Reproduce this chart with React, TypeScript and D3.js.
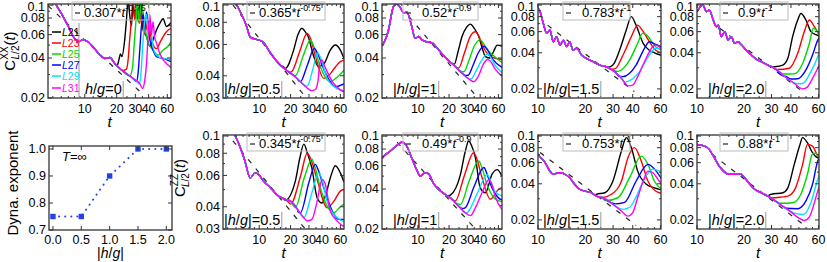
import * as d3 from "d3"

type Pt = [number, number]

// line order: L21, L23, L25, L27, L29, L31
const SIZES = ["21", "23", "25", "27", "29", "31"]
const COLORS = ["#000000", "#ff0000", "#00d800", "#0000ff", "#00e0ff", "#ff00ff"]

const xTickValues = [10, 20, 30, 40, 60]
const xMinorValues = [5, 6, 7, 8, 9, 12, 14, 16, 18, 25, 35, 45, 50, 55]
const yTicksA = [0.02, 0.04, 0.06, 0.08, 0.1]
const yTicksB = [0.03, 0.04, 0.06, 0.08, 0.1]
const yMinorA = [0.03, 0.05, 0.07, 0.09]
const yMinorB = [0.05, 0.07, 0.09]

// ---- C^XX, h/g = 0 ----
const xx0Base: Pt[] = [
  [4.5, 0.14], [5.4, 0.1], [6.25, 0.082], [7.0, 0.069], [7.8, 0.058], [8.7, 0.053], [9.6, 0.055],
  [10.7, 0.053], [12.4, 0.047], [13.9, 0.042], [15.4, 0.0397], [17.2, 0.0404], [19.2, 0.0364],
  [21.4, 0.0334], [24.7, 0.0306], [28.6, 0.028], [33, 0.0257], [35, 0.0236], [36.8, 0.0273],
  [38.2, 0.0364], [39.6, 0.06], [41, 0.085], [42.5, 0.06], [44, 0.075], [45.5, 0.058], [47.4, 0.052],
  [51, 0.043], [56.8, 0.0375], [65, 0.034],
]
const xx0Tails: Pt[][] = [
  [[20.2, 0.035], [21, 0.039], [21.7, 0.043], [22.4, 0.041], [23.8, 0.055], [24.7, 0.077], [25.6, 0.11],
    [26.5, 0.085], [27.5, 0.07], [28.6, 0.1], [29.6, 0.08], [30.7, 0.095], [32, 0.075], [33.5, 0.11],
    [35.5, 0.065], [38.2, 0.058], [41, 0.049], [44, 0.055], [47.4, 0.065], [51, 0.073], [54.8, 0.079],
    [58.9, 0.069], [65, 0.074]],
  [[22.5, 0.0322], [24.7, 0.033], [25.6, 0.0386], [26.5, 0.055], [27.5, 0.077], [28.6, 0.11], [29.6, 0.077],
    [30.7, 0.096], [33, 0.073], [34, 0.09], [36.8, 0.061], [39.6, 0.077], [42.5, 0.055], [47.4, 0.047],
    [51, 0.052], [54.8, 0.058], [58.9, 0.063], [65, 0.067]],
  [[24.5, 0.0302], [26.5, 0.0292], [28.2, 0.034], [29.3, 0.052], [30.4, 0.077], [31.3, 0.11], [32.5, 0.073],
    [34, 0.11], [36.8, 0.069], [39.6, 0.052], [44, 0.046], [49.2, 0.042], [54.8, 0.046], [60.9, 0.049],
    [65, 0.053]],
  [[28, 0.0285], [30.7, 0.0266], [31.8, 0.0306], [33, 0.046], [34.2, 0.069], [35.5, 0.085], [36.8, 0.065],
    [38.2, 0.089], [41, 0.055], [44, 0.046], [47.4, 0.041], [54.8, 0.0397], [65, 0.0375]],
  [[31, 0.0265], [32.5, 0.0255], [33.7, 0.029], [35, 0.046], [36.3, 0.069], [38.2, 0.085], [39.6, 0.061],
    [41, 0.077], [44, 0.049], [47.4, 0.042], [54.8, 0.0397], [65, 0.039]],
  [],
]
const xx0Fit: Pt[] = [[4.5, 0.099], [36, 0.021]]

// ---- C^XX, |h/g| = 0.5 ----
const xx05Base: Pt[] = [
  [4.5, 0.13], [6.1, 0.1], [7.6, 0.0755], [8.2, 0.066], [9.8, 0.0636], [10.9, 0.062], [12.8, 0.0537],
  [15.9, 0.046], [19, 0.0422], [23, 0.0387], [27.7, 0.0348], [30, 0.0335], [32, 0.033], [34.5, 0.0335],
  [36.5, 0.037], [38.5, 0.048], [40, 0.049], [42, 0.046], [44.8, 0.0422], [51.5, 0.0364], [60, 0.0333],
  [65, 0.0325],
]
const xx05Tails: Pt[][] = [
  [[17, 0.045], [17.8, 0.044], [21.4, 0.0558], [23.5, 0.068], [25.7, 0.074], [27.5, 0.071], [29.6, 0.066],
    [33, 0.0524], [37, 0.045], [42, 0.047], [48, 0.0558], [53.7, 0.0596], [60, 0.0558], [65, 0.05]],
  [[19.5, 0.0418], [20.5, 0.0422], [24.5, 0.055], [28.8, 0.0693], [31, 0.065], [35, 0.05], [41.6, 0.0387],
    [48, 0.041], [54, 0.045], [60, 0.048], [65, 0.049]],
  [[21, 0.0405], [22.2, 0.04], [26.5, 0.052], [31, 0.0636], [33.5, 0.058], [38, 0.046], [48, 0.037],
    [55, 0.039], [65, 0.043]],
  [[23.5, 0.038], [24.8, 0.037], [29, 0.046], [33.8, 0.057], [36, 0.054], [42, 0.043], [53.7, 0.0348],
    [65, 0.036]],
  [[27, 0.0355], [28.8, 0.035], [32.5, 0.043], [36.5, 0.0537], [39, 0.05], [44.8, 0.0387], [55, 0.034],
    [65, 0.033]],
  [],
]
const xx05Fit: Pt[] = [[5.6, 0.1], [29, 0.0294]]

// ---- C^XX, |h/g| = 1 ----
const xx1Base: Pt[] = [
  [4.5, 0.05], [4.65, 0.0516], [5.2, 0.065], [5.8, 0.0974], [6.2, 0.102], [6.7, 0.097], [7.3, 0.087],
  [7.8, 0.089], [8.75, 0.0686], [9.4, 0.0562], [10.2, 0.058], [10.9, 0.055], [12.2, 0.053], [13.7, 0.052],
  [15.9, 0.046], [18.4, 0.0404], [22.2, 0.0354], [26.7, 0.0307], [32.2, 0.0273], [34.7, 0.0265],
  [38.8, 0.0297], [43, 0.036], [47, 0.039], [50, 0.038], [56, 0.033], [65, 0.029],
]
const xx1Tails: Pt[][] = [
  [[21, 0.0368], [22.5, 0.036], [24.5, 0.045], [26.7, 0.058], [29.5, 0.068], [32.2, 0.072], [35, 0.067],
    [38.8, 0.058], [42, 0.047], [45, 0.041], [50, 0.04], [54, 0.045], [58.5, 0.05], [65, 0.049]],
  [[23.5, 0.034], [24.8, 0.0336], [28, 0.043], [32, 0.058], [36, 0.063], [39, 0.058], [43, 0.048],
    [48.5, 0.042], [55, 0.04], [65, 0.039]],
  [[26, 0.0318], [27.8, 0.0315], [31, 0.038], [35, 0.049], [40, 0.055], [44, 0.05], [48.5, 0.045],
    [55, 0.041], [65, 0.037]],
  [[29, 0.0296], [30.6, 0.0297], [34, 0.035], [38.5, 0.044], [43.5, 0.049], [47, 0.046], [53, 0.039],
    [65, 0.034]],
  [[31.5, 0.0278], [33, 0.028], [36.5, 0.032], [41, 0.038], [47, 0.043], [50, 0.041], [56, 0.035],
    [65, 0.031]],
  [],
]
const xx1Fit: Pt[] = [[8.2, 0.082], [36, 0.021]]

// ---- C^XX, |h/g| = 1.5 ----
const xx15Base: Pt[] = [
  [10, 0.093], [10.2, 0.091], [10.8, 0.0704], [11.35, 0.058], [11.9, 0.062], [12.5, 0.0495], [13.1, 0.0545],
  [13.8, 0.0464], [14.5, 0.051], [15.2, 0.045], [15.9, 0.0494], [16.7, 0.042], [17.6, 0.0436], [18.9, 0.0383],
  [20.3, 0.036], [22.4, 0.0337], [24.7, 0.0316], [27.2, 0.0306], [31.5, 0.027], [34.6, 0.0237],
  [37.3, 0.0212], [40, 0.0215], [43, 0.0253], [47.5, 0.0337], [53.7, 0.045], [56, 0.0464], [61, 0.043],
]
const xx15Tails: Pt[][] = [
  [[28, 0.0304], [29.9, 0.0316], [33, 0.042], [36.4, 0.062], [39.2, 0.08], [42, 0.068], [46.6, 0.048],
    [51, 0.042], [55, 0.04], [61, 0.038]],
  [[29, 0.0292], [31, 0.0295], [34.6, 0.038], [39.2, 0.0545], [43, 0.068], [45.5, 0.063], [48.8, 0.0545],
    [56, 0.042], [61, 0.04]],
  [[30.5, 0.0282], [32.2, 0.028], [38.2, 0.0348], [43, 0.048], [46.3, 0.058], [48.5, 0.057], [51, 0.0528],
    [56, 0.045], [61, 0.042]],
  [[32.5, 0.0256], [34.6, 0.0253], [42, 0.0316], [47.5, 0.0436], [51, 0.0494], [54, 0.048], [61, 0.045]],
  [[35, 0.0228], [36.4, 0.0229], [44.2, 0.0279], [51, 0.0383], [56, 0.0436], [61, 0.043]],
  [],
]
const xx15Fit: Pt[] = [[11.5, 0.068], [41, 0.019]]

// ---- C^XX, |h/g| = 2.0 ----
const xx2Base: Pt[] = [
  [10, 0.088], [10.9, 0.1], [11.5, 0.088], [12, 0.091], [12.7, 0.075], [13.3, 0.066], [13.7, 0.068],
  [14.3, 0.0545], [15.1, 0.06], [15.8, 0.051], [16.6, 0.0545], [17.4, 0.048], [18.3, 0.0494], [19.3, 0.0464],
  [20.7, 0.042], [22.3, 0.0383], [24, 0.0353], [25.8, 0.0337], [28.5, 0.0316], [31.4, 0.0297],
  [36.3, 0.0255], [42, 0.0222], [47.5, 0.02], [50.9, 0.0207], [55, 0.0245], [59.4, 0.0297], [61, 0.032],
]
const xx2Tails: Pt[][] = [
  [[30, 0.0305], [31.4, 0.0306], [35.5, 0.0316], [38.2, 0.036], [41, 0.0545], [44.2, 0.075], [46.3, 0.085],
    [49.9, 0.075], [53.7, 0.06], [59, 0.056], [61, 0.055]],
  [[31.5, 0.0294], [32.9, 0.029], [39, 0.0297], [44.2, 0.0396], [48.7, 0.06], [52.5, 0.075], [56.5, 0.066],
    [61, 0.056]],
  [[33.5, 0.028], [36, 0.0266], [42, 0.0267], [47.5, 0.0326], [52.5, 0.048], [55.7, 0.064], [58, 0.062],
    [61, 0.056]],
  [[36.5, 0.0255], [40, 0.0242], [44.2, 0.0243], [49.9, 0.0288], [55, 0.0383], [59.4, 0.051], [61, 0.054]],
  [[40, 0.0232], [44, 0.0221], [47.5, 0.0222], [53.7, 0.0279], [59.4, 0.037], [61, 0.041]],
  [],
]
const xx2Fit: Pt[] = [[14, 0.064], [48, 0.0188]]

// ---- C^ZZ, |h/g| = 0.5 ----
const zz05Base: Pt[] = [
  [4.5, 0.125], [5.9, 0.1], [6.6, 0.086], [7.3, 0.0724], [8.2, 0.058], [9.1, 0.062], [9.8, 0.061],
  [11, 0.0558], [12.8, 0.0512], [13.7, 0.049], [15.3, 0.046], [17.8, 0.044], [20, 0.043], [23.3, 0.0387],
  [26.8, 0.0347], [28.8, 0.0333], [32, 0.034], [35.9, 0.043], [38.5, 0.053], [40, 0.057], [43, 0.0535],
  [48, 0.038], [54, 0.034], [60, 0.032], [65, 0.031],
]
const zz05Tails: Pt[][] = [
  [[16.5, 0.045], [17.8, 0.0436], [22.2, 0.0558], [24.5, 0.075], [26.8, 0.09], [29, 0.08], [32, 0.066],
    [35.9, 0.045], [40, 0.042], [44, 0.048], [48, 0.058], [53.7, 0.068], [60, 0.062], [65, 0.055]],
  [[19, 0.0425], [20, 0.0414], [25, 0.06], [28.8, 0.08], [31, 0.075], [35.9, 0.057], [44.8, 0.0395],
    [52, 0.043], [60, 0.049], [65, 0.05]],
  [[21, 0.041], [22.2, 0.0395], [27, 0.058], [32, 0.074], [34, 0.068], [38.5, 0.0512], [51.6, 0.037],
    [60, 0.04], [65, 0.0414]],
  [[23.5, 0.0375], [24.8, 0.037], [30, 0.055], [34.5, 0.0693], [37, 0.064], [41.6, 0.0512], [50, 0.038],
    [57.6, 0.034], [65, 0.034]],
  [[25.5, 0.0357], [26.8, 0.0347], [32, 0.048], [37.3, 0.062], [40, 0.057], [44.8, 0.043], [55, 0.035],
    [65, 0.033]],
  [],
]
const zz05Fit: Pt[] = [[5.6, 0.094], [29, 0.029]]

// ---- C^ZZ, |h/g| = 1 ----
const zz1Base: Pt[] = [
  [4.5, 0.068], [4.65, 0.07], [5.6, 0.079], [6.5, 0.087], [7, 0.09], [7.8, 0.084], [8.75, 0.068],
  [9.8, 0.055], [10.5, 0.05], [11.8, 0.053], [12.7, 0.052], [14.2, 0.044], [15.9, 0.0397], [18.4, 0.0364],
  [20.6, 0.0343], [24.8, 0.0297], [28.8, 0.0265], [32.2, 0.0252], [36, 0.029], [42, 0.038], [48.5, 0.047],
  [52, 0.043], [56, 0.035], [65, 0.028],
]
const zz1Tails: Pt[][] = [
  [[19.5, 0.0355], [20.6, 0.036], [25.8, 0.0515], [28.5, 0.075], [31, 0.092], [33, 0.085], [36, 0.0686],
    [40, 0.0408], [45, 0.0375], [52, 0.0515], [58.5, 0.056], [65, 0.05]],
  [[22, 0.033], [23, 0.0325], [28, 0.05], [34.6, 0.075], [37, 0.068], [41.6, 0.049], [50.3, 0.0335],
    [60, 0.0397], [65, 0.041]],
  [[24, 0.031], [25.8, 0.0306], [31, 0.045], [38.8, 0.065], [41.5, 0.058], [46.7, 0.043], [55, 0.034],
    [65, 0.032]],
  [[27, 0.0285], [28.8, 0.029], [35, 0.042], [43.5, 0.058], [46.5, 0.052], [52, 0.0408], [60, 0.0343],
    [65, 0.033]],
  [[30, 0.0265], [31, 0.0273], [38, 0.038], [46.7, 0.0515], [50, 0.047], [56, 0.038], [65, 0.0355]],
  [],
]
const zz1Fit: Pt[] = [[6.3, 0.09], [34, 0.021]]

// ---- C^ZZ, |h/g| = 1.5 ----
const zz15Base: Pt[] = [
  [10, 0.07], [10.2, 0.068], [11.1, 0.06], [11.9, 0.051], [12.5, 0.048], [13.4, 0.0494], [14.1, 0.0494],
  [14.8, 0.048], [15.9, 0.045], [17.1, 0.0396], [18.4, 0.036], [19.8, 0.0348], [21.8, 0.0337],
  [23.5, 0.0316], [25.9, 0.0306], [29.9, 0.027], [33.9, 0.0237], [37.3, 0.0215], [40, 0.023], [43, 0.0306],
  [46.6, 0.042], [50, 0.051], [53.7, 0.0494], [59, 0.042], [61, 0.04],
]
const zz15Tails: Pt[][] = [
  [[23, 0.0322], [23.5, 0.0327], [26.6, 0.0337], [29.9, 0.042], [33.9, 0.075], [36.4, 0.097], [39.2, 0.08],
    [43, 0.051], [48.8, 0.0396], [55, 0.037], [61, 0.0355]],
  [[24.5, 0.031], [25.3, 0.0306], [29.3, 0.0327], [33.9, 0.042], [37.3, 0.066], [41, 0.08], [45.3, 0.062],
    [50, 0.042], [59, 0.0337], [61, 0.0335]],
  [[26, 0.0298], [27.2, 0.029], [32.2, 0.0306], [38.2, 0.045], [45.3, 0.068], [50, 0.058], [55, 0.042],
    [61, 0.036]],
  [[28, 0.0285], [31, 0.0272], [35.5, 0.028], [42, 0.042], [50, 0.058], [55, 0.053], [61, 0.044]],
  [[31.5, 0.0258], [34.5, 0.0245], [38.2, 0.0255], [42, 0.031], [46.6, 0.042], [53.7, 0.053], [61, 0.05]],
  [],
]
const zz15Fit: Pt[] = [[10.3, 0.073], [42, 0.018]]

// ---- C^ZZ, |h/g| = 2.0 ----
const zz2Base: Pt[] = [
  [10, 0.085], [11.2, 0.0825], [12, 0.077], [12.9, 0.066], [13.9, 0.056], [14.8, 0.051], [16, 0.048],
  [17.4, 0.048], [18.8, 0.0485], [20.2, 0.045], [21.8, 0.0396], [23.4, 0.036], [25.8, 0.0337],
  [28.5, 0.0316], [32.9, 0.0278], [38.2, 0.0245], [44.2, 0.021], [48.7, 0.0198], [52.5, 0.0212],
  [56.5, 0.0278], [59.4, 0.0348], [61, 0.038],
]
const zz2Tails: Pt[][] = [
  [[29, 0.0322], [30, 0.0327], [35.5, 0.0337], [38.2, 0.037], [42, 0.058], [45.4, 0.0825], [47.5, 0.097],
    [51, 0.088], [55, 0.0726], [59.4, 0.066], [61, 0.066]],
  [[30.5, 0.0305], [31.4, 0.0306], [38.2, 0.0316], [42.8, 0.037], [47.5, 0.058], [51, 0.085], [55, 0.0825],
    [59.4, 0.068], [61, 0.066]],
  [[32, 0.0288], [34, 0.0275], [41, 0.0278], [46.3, 0.0327], [51, 0.048], [55, 0.071], [57.5, 0.072],
    [61, 0.064]],
  [[34.5, 0.0265], [37, 0.025], [44.2, 0.0248], [49.9, 0.0288], [55, 0.0396], [59.4, 0.062], [61, 0.066]],
  [[38, 0.0242], [42, 0.0228], [48, 0.0222], [53.7, 0.0278], [59.4, 0.0436], [61, 0.048]],
  [],
]
const zz2Fit: Pt[] = [[12.5, 0.0704], [47, 0.0187]]

// ---- dynamical exponent vs |h/g| ----
const hgValues = [0, 0.5, 1.0, 1.5, 2.0]
const exponentValues = [0.75, 0.75, 0.9, 1.0, 1.0]
const expTicksX = [0, 0.5, 1, 1.5, 2]
const expTicksY = [0.7, 0.8, 0.9, 1.0]

// layout
const FRAMES: [number, number][] = [[48, 171], [223, 344], [382, 502], [538, 661], [697, 819]]
const ROWS: [number, number][] = [[4, 98], [135, 229]]
const X_DOMS: [number, number][] = [[4.5, 65], [4.5, 65], [4.5, 65], [10, 60.5], [10, 60.5]]
const Y_DOMS: [number, number][] = [[0.02, 0.102], [0.03, 0.1013], [0.02, 0.102], [0.0168, 0.102], [0.0168, 0.102]]
const FIT_BOX = [[24, 77, 12], [24, 78, 12], [21, 75, 19], [25, 67, 19], [23, 68, 18]]
const HG_OFF = [37, 1, 11, 5, 11]
const FONT = "'Liberation Sans', Arial, sans-serif"
const TICK_FS = 12.5

interface PanelDef {
  row: number
  col: number
  base: Pt[]
  tails: Pt[][]
  fit: Pt[]
  coef: string
  pow: string
  hg: string
}

const panels: PanelDef[] = [
  { row: 0, col: 0, base: xx0Base, tails: xx0Tails, fit: xx0Fit, coef: "0.307", pow: "-0.75", hg: "0" },
  { row: 0, col: 1, base: xx05Base, tails: xx05Tails, fit: xx05Fit, coef: "0.365", pow: "-0.75", hg: "0.5" },
  { row: 0, col: 2, base: xx1Base, tails: xx1Tails, fit: xx1Fit, coef: "0.52", pow: "-0.9", hg: "1" },
  { row: 0, col: 3, base: xx15Base, tails: xx15Tails, fit: xx15Fit, coef: "0.783", pow: "-1", hg: "1.5" },
  { row: 0, col: 4, base: xx2Base, tails: xx2Tails, fit: xx2Fit, coef: "0.9", pow: "-1", hg: "2.0" },
  { row: 1, col: 1, base: zz05Base, tails: zz05Tails, fit: zz05Fit, coef: "0.345", pow: "-0.75", hg: "0.5" },
  { row: 1, col: 2, base: zz1Base, tails: zz1Tails, fit: zz1Fit, coef: "0.49", pow: "-0.9", hg: "1" },
  { row: 1, col: 3, base: zz15Base, tails: zz15Tails, fit: zz15Fit, coef: "0.753", pow: "-1", hg: "1.5" },
  { row: 1, col: 4, base: zz2Base, tails: zz2Tails, fit: zz2Fit, coef: "0.88", pow: "-1", hg: "2.0" },
]

// each size follows the shared early-time curve until its own data starts
function buildSeries(base: Pt[], tails: Pt[][]) {
  return tails.map((tail) => (tail.length ? [...base.filter((p) => p[0] < tail[0][0]), ...tail] : base))
}

function textWidth(s: string, size: number) {
  const w: Record<string, number> = { "|": 0.26, "/": 0.278, "=": 0.584, ".": 0.278 }
  let total = 0
  for (const c of s) total += w[c] ?? 0.556
  return total * size
}

function CLabel({ x, y, sup }: { x: number; y: number; sup: string }) {
  const supW = sup.length * 6.5
  return (
    <text transform={`translate(${x},${y}) rotate(-90)`} textAnchor="middle" fontSize={15}>
      C
      <tspan fontSize={10} dy={-7}>{sup}</tspan>
      <tspan fontSize={10} dx={-supW} dy={11} fontStyle="italic">L</tspan>
      <tspan fontSize={10}>/2</tspan>
      <tspan dy={-4}>(</tspan>
      <tspan fontStyle="italic">t</tspan>)
    </text>
  )
}

function CurvePanel({ p }: { p: PanelDef }) {
  const [left, right] = FRAMES[p.col]
  const [top, bottom] = ROWS[p.row]
  const xDom = X_DOMS[p.col]
  const xs = d3.scaleLog().domain(xDom).range([left, right])
  const ys = d3.scaleLog().domain(Y_DOMS[p.col]).range([bottom, top])
  const line = d3
    .line<Pt>()
    .x((d) => xs(d[0]))
    .y((d) => ys(d[1]))
    .curve(d3.curveMonotoneX)
  const series = buildSeries(p.base, p.tails)
  const yTicks = p.col === 1 ? yTicksB : yTicksA
  const yMinor = p.col === 1 ? yMinorB : yMinorA
  const xMinor = xMinorValues.filter((t) => t > xDom[0] && t < xDom[1])
  const clipId = `clip-${p.row}-${p.col}`
  const [bo, bw, to] = FIT_BOX[p.col]
  const bx = left + bo
  const hgx = left + HG_OFF[p.col]
  const bars = p.col !== 0
  const hgStr = bars ? `|h/g|=${p.hg}` : `h/g=${p.hg}`
  const hgEnd = hgx + textWidth(hgStr, 14.5) + 1.5
  const tick = "#333"

  return (
    <g>
      <defs>
        <clipPath id={clipId}>
          <rect x={left} y={top} width={right - left} height={bottom - top} />
        </clipPath>
      </defs>
      <g clipPath={`url(#${clipId})`}>
        <path d={line(p.fit) ?? ""} fill="none" stroke="#222" strokeWidth={1.2} strokeDasharray="5 7" />
        {series.map((s, i) => (
          <path key={i} d={line(s) ?? ""} fill="none" stroke={COLORS[i]} strokeWidth={1.4} />
        ))}
      </g>
      <rect x={left} y={top} width={right - left} height={bottom - top} fill="none" stroke="#333" strokeWidth={1.3} />

      {xTickValues.map((t) => (
        <g key={`xt${t}`}>
          <line x1={xs(t)} x2={xs(t)} y1={bottom} y2={bottom - 4} stroke={tick} />
          <line x1={xs(t)} x2={xs(t)} y1={top} y2={top + 4} stroke={tick} />
          <text x={xs(t)} y={bottom + 15} textAnchor="middle" fontSize={TICK_FS}>
            {t}
          </text>
        </g>
      ))}
      {xMinor.map((t) => (
        <g key={`xm${t}`}>
          <line x1={xs(t)} x2={xs(t)} y1={bottom} y2={bottom - 2} stroke={tick} />
          <line x1={xs(t)} x2={xs(t)} y1={top} y2={top + 2} stroke={tick} />
        </g>
      ))}
      {yTicks.map((v) => (
        <g key={`yt${v}`}>
          <line x1={left} x2={left + 4} y1={ys(v)} y2={ys(v)} stroke={tick} />
          <line x1={right} x2={right - 4} y1={ys(v)} y2={ys(v)} stroke={tick} />
          <text x={left - 3} y={Math.max(ys(v) + 4.3, 11)} textAnchor="end" fontSize={TICK_FS}>
            {String(v)}
          </text>
        </g>
      ))}
      {yMinor.map((v) => (
        <g key={`ym${v}`}>
          <line x1={left} x2={left + 2} y1={ys(v)} y2={ys(v)} stroke={tick} />
          <line x1={right} x2={right - 2} y1={ys(v)} y2={ys(v)} stroke={tick} />
        </g>
      ))}

      <text x={(left + right) / 2} y={bottom + 29} textAnchor="middle" fontSize={15} fontStyle="italic">
        t
      </text>

      {/* fit legend */}
      <rect x={bx} y={top - 2} width={bw} height={18} fill="none" stroke="#bbb" strokeWidth={1} />
      <line x1={bx + 3} x2={bx + 8} y1={top + 9} y2={top + 9} stroke="#222" strokeWidth={1.2} />
      <text x={bx + to} y={top + 13} fontSize={13}>
        {p.coef}*<tspan fontStyle="italic">t</tspan>
        <tspan fontSize={9} dy={-6}>{p.pow}</tspan>
      </text>

      {/* |h/g| label */}
      <line x1={hgEnd} x2={hgEnd} y1={bottom - 17} y2={bottom} stroke="#999" strokeWidth={1} />
      <text x={hgx} y={bottom - 4} fontSize={14.5}>
        {bars ? "|" : ""}
        <tspan fontStyle="italic">h</tspan>/<tspan fontStyle="italic">g</tspan>
        {bars ? "|" : ""}={p.hg}
      </text>
    </g>
  )
}

function SizeLegend() {
  const ys = [32, 43, 54, 65, 76, 88]
  return (
    <g>
      <line x1={79} x2={79} y1={23} y2={98} stroke="#999" strokeWidth={1} />
      {SIZES.map((s, i) => (
        <g key={s}>
          <line x1={52} x2={61} y1={ys[i]} y2={ys[i]} stroke={COLORS[i]} strokeWidth={1.5} />
          <text x={62} y={ys[i] + 3.8} fontSize={10.5} fill={COLORS[i]}>
            <tspan fontStyle="italic">L</tspan>
            {s}
          </text>
        </g>
      ))}
    </g>
  )
}

function ExponentPanel() {
  const left = 49, right = 172, top = 146, bottom = 230
  const xs = d3.scaleLinear().domain([-0.07, 2.1]).range([left, right])
  const ys = d3.scaleLinear().domain([0.7, 1.011]).range([bottom, top])
  const pts = hgValues.map((h, i) => [h, exponentValues[i]] as Pt)
  const line = d3
    .line<Pt>()
    .x((d) => xs(d[0]))
    .y((d) => ys(d[1]))
  const blue = "#2244e6"
  const fmt = d3.format(".1f")
  return (
    <g>
      <path d={line(pts) ?? ""} fill="none" stroke={blue} strokeWidth={2} strokeDasharray="0.1 6" strokeLinecap="round" />
      {pts.map((d, i) => (
        <rect key={i} x={xs(d[0]) - 2.7} y={ys(d[1]) - 2.7} width={5.4} height={5.4} fill={blue} />
      ))}
      <rect x={left} y={top} width={right - left} height={bottom - top} fill="none" stroke="#333" strokeWidth={1.3} />
      {expTicksX.map((v) => (
        <g key={`ex${v}`}>
          <line x1={xs(v)} x2={xs(v)} y1={bottom} y2={bottom - 4} stroke="#333" />
          <line x1={xs(v)} x2={xs(v)} y1={top} y2={top + 4} stroke="#333" />
          <text x={xs(v)} y={bottom + 14} textAnchor="middle" fontSize={TICK_FS}>
            {fmt(v)}
          </text>
        </g>
      ))}
      {expTicksY.map((v) => (
        <g key={`ey${v}`}>
          <line x1={left} x2={left + 4} y1={ys(v)} y2={ys(v)} stroke="#333" />
          <line x1={right} x2={right - 4} y1={ys(v)} y2={ys(v)} stroke="#333" />
          <text x={left - 3} y={ys(v) + 4.3} textAnchor="end" fontSize={TICK_FS}>
            {fmt(v)}
          </text>
        </g>
      ))}
      <text x={62} y={161} fontSize={13}>
        <tspan fontStyle="italic">T</tspan>=∞
      </text>
      <text x={(left + right) / 2} y={258} textAnchor="middle" fontSize={14}>
        |<tspan fontStyle="italic">h</tspan>/<tspan fontStyle="italic">g</tspan>|
      </text>
      <text transform={`translate(18,183) rotate(-90)`} textAnchor="middle" fontSize={15}>
        Dyna. exponent
      </text>
    </g>
  )
}

export default function App() {
  return (
    <svg
      width={827}
      height={262}
      style={{ position: "absolute", left: 0, top: 0, background: "#fff" }}
      fontFamily={FONT}
    >
      {panels.map((p) => (
        <CurvePanel key={`${p.row}-${p.col}`} p={p} />
      ))}
      <SizeLegend />
      <ExponentPanel />
      <CLabel x={15} y={51} sup="XX" />
      <CLabel x={185} y={178} sup="ZZ" />
    </svg>
  )
}
